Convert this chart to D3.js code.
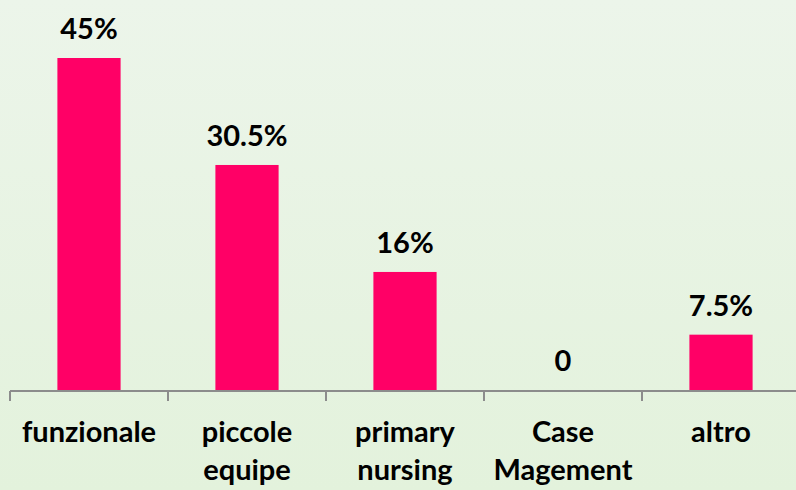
<!DOCTYPE html>
<html><head><meta charset="utf-8">
<script src="https://cdn.jsdelivr.net/npm/d3@7"></script>
<style>html,body{margin:0;padding:0;overflow:hidden;background:#e6f3e0}</style>
</head><body>
<svg id="c" width="796" height="490"></svg>
<script>
const categories = [["funzionale"],["piccole","equipe"],["primary","nursing"],["Case","Magement"],["altro"]];
const values = [45, 30.5, 16, 0, 7.5];
const valueLabels = ["45%","30.5%","16%","0","7.5%"];

const svg = d3.select("#c");
const W = 796, H = 490;
const defs = svg.append("defs");
const g = defs.append("linearGradient").attr("id","bg").attr("x1",0).attr("y1",0).attr("x2",0).attr("y2",1);
g.append("stop").attr("offset","0%").attr("stop-color","#ecf5ea");
g.append("stop").attr("offset","100%").attr("stop-color","#e3f2dc");
svg.append("rect").attr("width",W).attr("height",H).attr("fill","url(#bg)");

const x = d3.scaleBand().domain(d3.range(values.length)).range([10, 800]).padding(0);
const y = d3.scaleLinear().domain([0, 45]).range([390, 58]);
const bw = x.bandwidth() * 0.4;
const font = "Lato, 'Open Sans', sans-serif";

svg.selectAll("rect.bar").data(values).join("rect").attr("class","bar")
  .attr("x",(d,i)=>x(i)+x.bandwidth()/2-bw/2)
  .attr("y",d=>y(d)).attr("width",bw).attr("height",d=>y(0)-y(d))
  .attr("fill","#ff0066");

// axis
const axis = svg.append("g");
axis.append("line").attr("x1",10).attr("x2",W).attr("y1",391).attr("y2",391)
  .attr("stroke","#8c8c8c").attr("stroke-width",2);
d3.range(values.length+1).forEach(i=>{
  const xx = i<values.length ? x(i) : 800;
  axis.append("line").attr("x1",xx).attr("x2",xx).attr("y1",391).attr("y2",401)
    .attr("stroke","#8c8c8c").attr("stroke-width",2);
});

svg.selectAll("text.val").data(values).join("text").attr("class","val")
  .attr("x",(d,i)=>x(i)+x.bandwidth()/2).attr("y",d=>y(d)-19)
  .attr("text-anchor","middle").attr("font-family",font).attr("font-weight","bold")
  .attr("font-size",29).attr("fill","#000").text((d,i)=>valueLabels[i]);

categories.forEach((lines,i)=>{
  const t = svg.append("text").attr("text-anchor","middle").attr("font-family",font)
    .attr("font-weight","bold").attr("font-size",29).attr("fill","#000");
  lines.forEach((ln,j)=>{
    t.append("tspan").attr("x",x(i)+x.bandwidth()/2).attr("y",442+j*38).text(ln);
  });
});
</script>
</body></html>
